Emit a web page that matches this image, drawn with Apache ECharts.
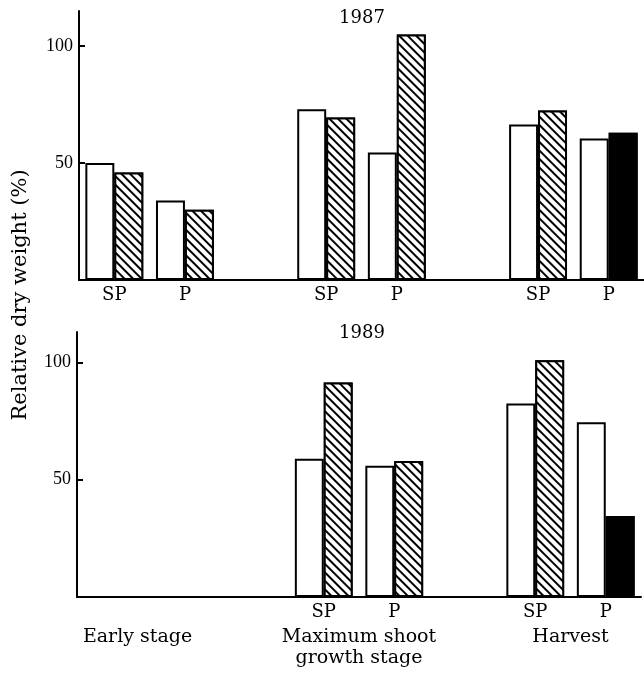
<!DOCTYPE html>
<html>
<head>
<meta charset="utf-8">
<script src="https://cdn.jsdelivr.net/npm/echarts@6/dist/echarts.min.js"></script>
<style>html,body{margin:0;padding:0;background:#fff}#c{width:644px;height:675px}</style>
</head>
<body>
<div id="c"></div>
<script>
// ---- data ----
const categories = ['SP', 'P', '', 'SP', 'P', '', 'SP', 'P'];
const stageLabels = ['', 'Early stage', '', '', 'Maximum shoot\ngrowth stage', '', '', 'Harvest', ''];
const years = ['1987', '1989'];
const yTicks = [50, 100];
const control1987 = [50, 34, null, 73, 54.5, null, 66.5, 60.5];
const treated1987 = [46, 30, null, 69.5, 105, null, 72.5, 63];
const control1989 = [null, null, null, 59, 56, null, 82.5, 74.5];
const treated1989 = [null, null, null, 91.5, 58, null, 101, 34.5];
const yTitle = 'Relative dry weight (%)';

// ---- styling / layout ----
const serif = 'DejaVu Serif';
const solidIndex = categories.length - 1; // last group drawn solid
const hatch = {
  symbol: 'rect', symbolSize: 1, color: '#000', backgroundColor: '#fff',
  dashArrayX: [1, 0], dashArrayY: [1.8, 3.8], rotation: Math.PI / 4
};
function treatData(arr) {
  return arr.map((v, i) => i === solidIndex && v != null
    ? { value: v, itemStyle: { color: '#000', decal: Object.assign({}, hatch, { color: '#000', backgroundColor: '#000' }) } }
    : v);
}
const barBase = { type: 'bar', barGap: '0%', barCategoryGap: '18%', silent: true,
  itemStyle: { color: '#fff', borderColor: '#000', borderWidth: 2 } };
const grids = [
  { left: 79, right: 0, top: 11, height: 269 },
  { left: 77, right: 0, top: 332, height: 265 }
];
const yMax = [115, 113];
const series89 = [control1989, treated1989];
const axisLine = { show: true, lineStyle: { color: '#000', width: 2 } };

const xAxes = [0, 1].map(g => ({
  type: 'category', gridIndex: g, data: categories,
  axisLine: axisLine, axisTick: { show: false },
  axisLabel: {
    interval: g === 0 ? 0 : (idx) => series89.some(s => s[idx] != null),
    color: '#000', fontFamily: serif, fontSize: 18, margin: 6
  }
}));
xAxes.push({
  type: 'category', gridIndex: 1, position: 'bottom', offset: 24, boundaryGap: false,
  data: stageLabels.map(s => s === 'Early stage' ? { value: s, textStyle: { padding: [0, 20, 0, 0] } } : s),
  axisLine: { show: false }, axisTick: { show: false },
  axisLabel: { interval: 0, color: '#000', fontFamily: serif, fontSize: 19, lineHeight: 21, margin: 6 }
});

const yAxes = [0, 1].map(g => ({
  type: 'value', gridIndex: g, min: 0, max: yMax[g], interval: 50,
  splitLine: { show: false }, axisLine: axisLine,
  axisTick: { show: true, inside: true, length: 6, lineStyle: { color: '#000', width: 2 }, customValues: yTicks },
  axisLabel: { color: '#000', fontFamily: 'Liberation Serif', fontSize: 18, margin: 6, customValues: yTicks }
}));

const option = {
  animation: false,
  backgroundColor: '#fff',
  title: years.map((y, i) => ({
    text: y, left: 362, top: i === 0 ? 9 : 324, textAlign: 'center', padding: 0,
    textStyle: { fontFamily: serif, fontWeight: 'normal', fontSize: 18, color: '#000' }
  })),
  grid: grids,
  xAxis: xAxes,
  yAxis: yAxes,
  series: [
    Object.assign({}, barBase, { name: 'control 1987', xAxisIndex: 0, yAxisIndex: 0, data: control1987 }),
    Object.assign({}, barBase, { name: 'treated 1987', xAxisIndex: 0, yAxisIndex: 0, data: treatData(treated1987),
      itemStyle: Object.assign({}, barBase.itemStyle, { decal: hatch }) }),
    Object.assign({}, barBase, { name: 'control 1989', xAxisIndex: 1, yAxisIndex: 1, data: control1989 }),
    Object.assign({}, barBase, { name: 'treated 1989', xAxisIndex: 1, yAxisIndex: 1, data: treatData(treated1989),
      itemStyle: Object.assign({}, barBase.itemStyle, { decal: hatch }) })
  ],
  graphic: [{
    type: 'text', x: 21, y: 295, rotation: Math.PI / 2,
    style: { text: yTitle, fontFamily: serif, fontSize: 21, fill: '#000', align: 'center', verticalAlign: 'middle' }
  }]
};
const chart = echarts.init(document.getElementById('c'), null, { renderer: 'canvas' });
chart.setOption(option);
</script>
</body>
</html>
